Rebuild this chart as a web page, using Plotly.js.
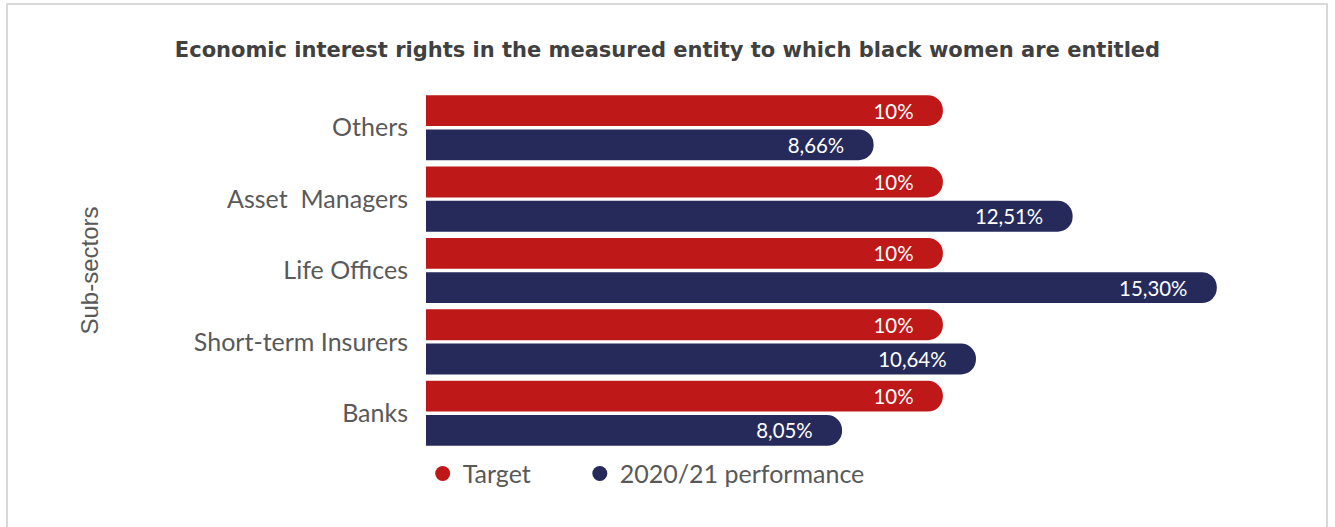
<!DOCTYPE html>
<html>
<head>
<meta charset="utf-8">
<script src="https://cdn.plot.ly/plotly-3.0.1.min.js"></script>
<style>
  html, body { margin: 0; padding: 0; background: #fff; overflow: hidden; }
  #wrap { position: relative; width: 1335px; height: 527px; }
  #chart { position: absolute; left: 0; top: 0; width: 1335px; height: 527px; }
  #frame { position: absolute; left: 6px; top: 3px; width: 1322px; height: 560px;
           border: 2px solid #d9d9d9; box-sizing: border-box; pointer-events: none; }
</style>
</head>
<body>
<div id="wrap">
  <div id="chart"></div>
  <div id="frame"></div>
</div>
<script>
const categories = ['Others', 'Asset  Managers', 'Life Offices', 'Short-term Insurers', 'Banks'];
const targetValues = [10, 10, 10, 10, 10];
const performanceValues = [8.66, 12.51, 15.30, 10.64, 8.05];
const seriesNames = ['Target', '2020/21 performance'];
const colors = ['#be1818', '#252a5a'];

const pad = '\u2007\u2009';
const fmtTarget = v => String(v).replace('.', ',') + '%' + pad;
const fmtPerf = v => v.toFixed(2).replace('.', ',') + '%' + pad;

const baseFont = 'Lato, "Open Sans", sans-serif';
const labelFont = { family: baseFont, size: 23, color: '#ffffff' };
const legendFont = { family: baseFont, size: 25, color: '#595959' };

const traces = [
  {
    type: 'bar', orientation: 'h', name: seriesNames[0],
    y: categories, x: targetValues,
    text: targetValues.map(fmtTarget),
    textposition: 'inside', insidetextanchor: 'end',
    textfont: labelFont, insidetextfont: labelFont,
    marker: { color: colors[0], cornerradius: 16 },
    showlegend: false
  },
  {
    type: 'bar', orientation: 'h', name: seriesNames[1],
    y: categories, x: performanceValues,
    text: performanceValues.map(fmtPerf),
    textposition: 'inside', insidetextanchor: 'end',
    textfont: labelFont, insidetextfont: labelFont,
    marker: { color: colors[1], cornerradius: 16 },
    showlegend: false
  },
  {
    type: 'scatter', mode: 'markers', name: seriesNames[0],
    x: [null], y: [null], legend: 'legend',
    marker: { color: colors[0], size: 15, symbol: 'circle' }, showlegend: true
  },
  {
    type: 'scatter', mode: 'markers', name: seriesNames[1],
    x: [null], y: [null], legend: 'legend2',
    marker: { color: colors[1], size: 15, symbol: 'circle' }, showlegend: true
  }
];

const layout = {
  width: 1335, height: 527,
  paper_bgcolor: '#ffffff', plot_bgcolor: '#ffffff',
  margin: { l: 426, r: 82, t: 92, b: 78 },
  font: { family: baseFont, color: '#595959' },
  title: {
    text: '<b>Economic interest rights in the measured entity to which black women are entitled</b>',
    font: { family: '"DejaVu Sans", sans-serif', size: 21, color: '#404040' },
    x: 0.5, xanchor: 'center', xref: 'container',
    y: 0.905, yanchor: 'middle', yref: 'container'
  },
  barmode: 'group',
  bargap: 0.04,
  bargroupgap: 0.1,
  xaxis: { range: [0, 16], visible: false, fixedrange: true },
  yaxis: {
    type: 'category',
    categoryorder: 'array', categoryarray: categories,
    autorange: 'reversed',
    showgrid: false, zeroline: false, showline: false,
    ticks: 'outside', ticklen: 12, tickcolor: 'rgba(0,0,0,0)',
    tickfont: { family: baseFont, size: 25, color: '#595959' },
    title: {
      text: 'Sub-sectors',
      font: { family: '"Liberation Sans", Arial, sans-serif', size: 24, color: '#595959' },
      standoff: 88
    },
    automargin: false
  },
  legend: {
    orientation: 'h', x: -0.004, xanchor: 'left', y: -0.005, yanchor: 'top',
    font: legendFont, itemwidth: 30, bgcolor: 'rgba(0,0,0,0)'
  },
  legend2: {
    orientation: 'h', x: 0.186, xanchor: 'left', y: -0.005, yanchor: 'top',
    font: legendFont, itemwidth: 30, bgcolor: 'rgba(0,0,0,0)'
  },
  showlegend: true
};

Plotly.newPlot('chart', traces, layout, { displayModeBar: false, staticPlot: true });
</script>
</body>
</html>
